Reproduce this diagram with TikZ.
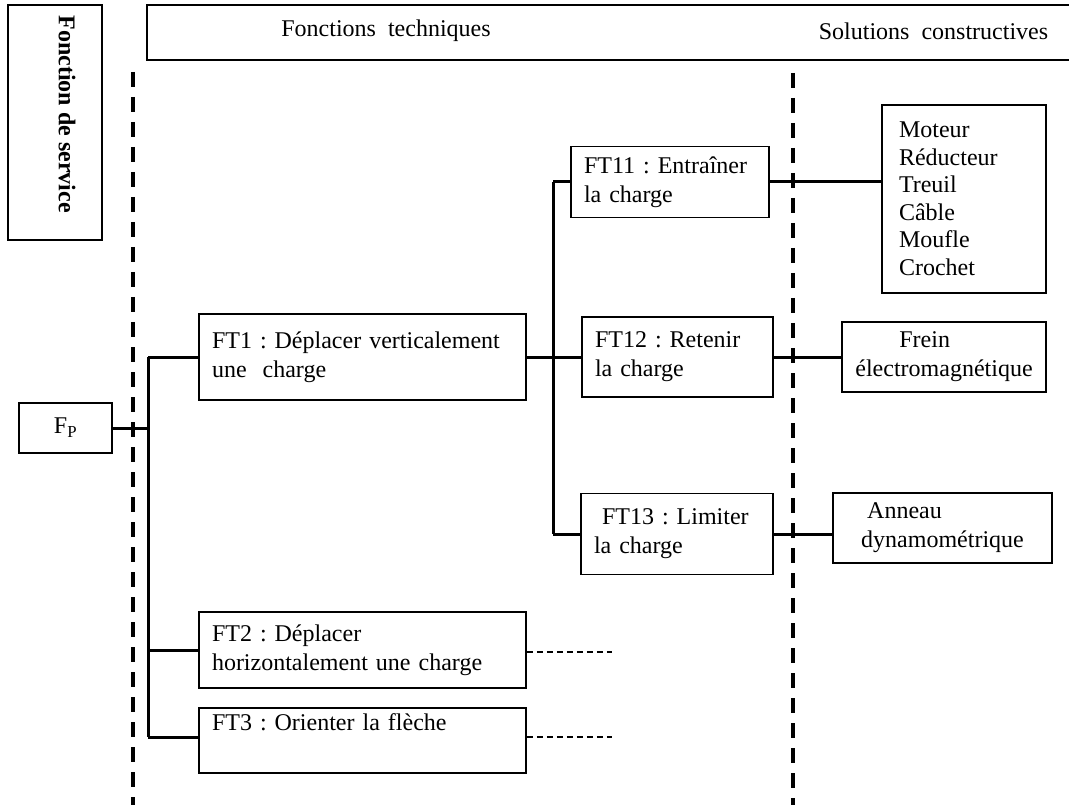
\documentclass[tikz,border=0pt]{standalone}
\usepackage{fontspec}
\setmainfont{Liberation Serif}
\frenchspacing
\begin{document}
\begin{tikzpicture}[x=1pt,y=-1pt,
  every node/.style={font=\fontsize{24}{29}\selectfont},
  box/.style={draw, line width=1.6pt, rectangle, inner xsep=13pt, inner ysep=0pt, align=left},
  plainbox/.style={draw, line width=1.6pt, rectangle, inner sep=0pt, align=left},
  conn/.style={line width=3pt},
  sep/.style={line width=4pt, dash pattern=on 15pt off 10pt},
  thin dash/.style={line width=1.2pt, dash pattern=on 6pt off 4pt}]
\useasboundingbox (0,0) rectangle (1069,805);
\fill[white] (0,0) rectangle (1069,805);

% header
\node[plainbox, minimum width=94pt, minimum height=235pt] (fs) at (55,122.5) {};
\node[rotate=-90, font=\fontsize{24}{29}\selectfont\bfseries] (fstxt) at (67,114) {Fonction de service};
\draw[line width=1.6pt] (1080,5) -- (147,5) -- (147,60) -- (1080,60);
\node (fth) at (386,31) {Fonctions\ \ techniques};
\node (sch) at (933.5,31) {Solutions\ \ constructives};

% separators
\coordinate (s1a) at (133,72); \coordinate (s1b) at (133,805);
\coordinate (s2a) at (793,73); \coordinate (s2b) at (793,805);
\draw[sep] (s1a) -- (s1b);
\draw[sep] (s2a) -- (s2b);

% nodes
\node[plainbox, minimum width=93pt, minimum height=50pt] (fp) at (65.5,428) {F\textsubscript{P}};
\node[box, text width=301pt, minimum height=86pt] (ft1) at (362.5,357) {FT1 : Déplacer verticalement\\une\ \ charge};
\node[box, text width=172pt, minimum height=71pt] (ft11) at (670,182) {FT11 : Entraîner\\la charge};
\node[box, text width=165pt, minimum height=80pt] (ft12) at (677.5,357) {FT12 : Retenir\\la charge};
\node[box, text width=166pt, minimum height=81pt] (ft13) at (677,534) {\ FT13 : Limiter\\la charge};
\node[box, text width=130pt, inner xsep=17pt, minimum height=188pt, font=\fontsize{24}{27.5}\selectfont] (mot) at (964,199) {Moteur\\Réducteur\\Treuil\\Câble\\Moufle\\Crochet};
\node[plainbox, minimum width=204pt, minimum height=70pt] (frein) at (944,357) {\hspace*{44pt}Frein\\électromagnétique};
\node[plainbox, minimum width=219pt, minimum height=70pt] (ann) at (942.5,528) {\hspace*{6pt}Anneau\\dynamométrique};
\node[box, text width=301pt, minimum height=76pt] (ft2) at (362.5,650) {FT2 : Déplacer\\horizontalement une charge};
\node[box, text width=301pt, minimum height=65pt] (ft3) at (362.5,740.5) {FT3 : Orienter la flèche\\\strut};

% connectors
\coordinate (b1t) at (148,357); \coordinate (b1b) at (148,737);
\coordinate (b2t) at (553,182); \coordinate (b2b) at (553,534);
\draw[conn] (fp.east) -- (fp.east -| b1t);
\draw[conn] (b1t) -- (b1b);
\draw[conn] (b1t) -- (ft1.west);
\draw[conn] (ft2.west -| b1t) -- (ft2.west);
\draw[conn] (b1b) -- (b1b -| ft3.west);
\draw[conn] (b2t) -- (b2b);
\draw[conn] (ft1.east) -- (ft12.west);
\draw[conn] (b2t) -- (ft11.west);
\draw[conn] (b2b) -- (ft13.west);
\draw[conn] (ft11.east) -- (ft11.east -| mot.west);
\draw[conn] (ft12.east) -- (frein.west);
\draw[conn] (ft13.east) -- (ft13.east -| ann.west);
\coordinate (d2) at (612,652); \coordinate (d3) at (612,737);
\draw[thin dash] (ft2.east |- d2) -- (d2);
\draw[thin dash] (ft3.east |- d3) -- (d3);
\end{tikzpicture}
\end{document}
